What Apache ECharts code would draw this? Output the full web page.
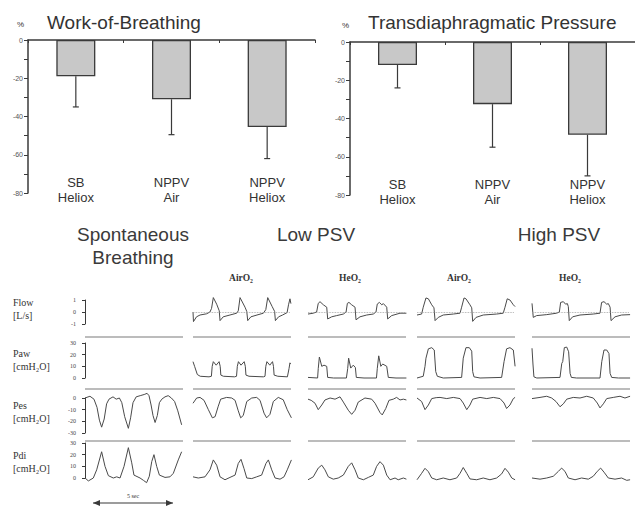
<!DOCTYPE html>
<html>
<head>
<meta charset="utf-8">
<script src="https://cdn.jsdelivr.net/npm/echarts@6/dist/echarts.min.js"></script>
<style>
html,body{margin:0;padding:0;background:#fff}
#main{width:635px;height:507px}
</style>
</head>
<body>
<div id="main"></div>
<script>
// --- bar charts (percent change) ---
var groups = ['SB\nHeliox', 'NPPV\nAir', 'NPPV\nHeliox'];
var wobMean = [-19, -31, -45.5];
var wobLow = [-35, -49.5, -62];
var pdiMean = [-12, -32.5, -48.5];
var pdiLow = [-24, -55, -70];

// --- tracings: [seconds, value] ---
var rowNames = ['Flow', 'Paw', 'Pes', 'Pdi'];
var rowUnits = ['[L/s]', '[cmH₂O]', '[cmH₂O]', '[cmH₂O]'];
var rowMin = [-1, 0, -30, 0];
var rowMax = [1, 30, 0, 30];
var rowStep = [1, 10, 10, 10];
var sectionNames = ['Spontaneous\nBreathing', 'Low PSV', 'High PSV'];
var gasNames = ['AirO₂', 'HeO₂', 'AirO₂', 'HeO₂'];

var spontPes = [[0,0],[0.31,1.5],[0.56,-1],[0.75,-8],[0.9,-19],[1.04,-25],[1.2,-18],[1.35,-5],[1.5,-1],[1.75,1],[1.95,-1],[2.15,0],[2.3,-4],[2.48,-16],[2.71,-26],[2.85,-17],[3.0,-4],[3.2,1],[3.45,2],[3.7,3],[3.88,4],[4.0,2],[4.13,-6],[4.25,-15],[4.38,-21],[4.52,-15],[4.65,-4],[4.8,-1],[5.0,1],[5.2,2],[5.4,0],[5.6,-3],[5.8,-11],[6.04,-23]];
var spontPdi = [[0,0],[0.21,-2.5],[0.52,0],[0.73,7],[1.04,22.5],[1.25,10],[1.46,2],[1.77,0],[1.98,1],[2.19,0],[2.44,10],[2.71,26],[2.92,13],[3.06,2.5],[3.44,0],[3.65,-2],[3.85,-4],[4.02,1.5],[4.17,14],[4.31,20],[4.48,10],[4.65,2.5],[5.0,0.5],[5.31,1],[5.52,4],[5.83,15.5],[6.04,22.5]];

var lowAirFlow = [[0,0],[0.03,-0.8],[0.22,-0.4],[0.44,-0.25],[0.85,-0.15],[1.06,0],[1.16,0.3],[1.27,1.2],[1.48,0.65],[1.64,0.1],[1.69,-0.72],[1.89,-0.4],[2.31,-0.25],[2.73,-0.1],[2.83,0.1],[2.94,1.2],[3.25,0.4],[3.36,0.05],[3.42,-0.72],[3.62,-0.4],[4.0,-0.25],[4.4,-0.1],[4.55,0.2],[4.67,1.2],[4.95,0.45],[5.1,0.05],[5.15,-0.72],[5.35,-0.4],[5.6,-0.25],[5.88,-0.05],[5.97,0.6],[6.06,1.1],[6.12,0.7]];
var lowAirPaw = [[0,14],[0.1,10],[0.27,3],[0.45,1.5],[1.0,1],[1.15,1.5],[1.2,10],[1.27,14],[1.45,11],[1.63,14],[1.7,10],[1.74,2.5],[1.9,1.5],[2.6,1],[2.72,1.5],[2.77,10],[2.84,14],[3.0,11],[3.2,14],[3.27,10],[3.31,2.5],[3.5,1.5],[4.4,1],[4.5,1.5],[4.55,10],[4.62,14],[4.8,11],[4.97,14],[5.03,10],[5.07,2.5],[5.3,1.5],[5.9,1],[6.0,8],[6.06,13],[6.1,12]];
var lowAirPes = [[0,-4.5],[0.23,0],[0.44,0.5],[0.69,-2],[0.96,-10],[1.21,-17],[1.38,-16],[1.58,-7],[1.73,-1],[2.1,0.5],[2.42,0],[2.63,-2],[2.83,-11],[2.98,-17],[3.14,-15],[3.36,-3],[3.67,0],[3.98,0.5],[4.19,-2],[4.44,-13],[4.6,-17],[4.81,-14],[5.02,-3],[5.33,0.5],[5.64,-1.5],[5.89,-10],[6.15,-17]];
var lowAirPdi = [[0,1],[0.33,0],[0.75,1],[1.06,7],[1.27,15.5],[1.48,11],[1.69,1],[2.0,-1.5],[2.31,0.5],[2.63,2.5],[2.83,12.5],[3.0,16],[3.19,8],[3.36,0],[3.67,-0.5],[3.98,1],[4.29,2.5],[4.56,12.5],[4.71,15.5],[4.92,7],[5.13,0],[5.44,-1],[5.69,1],[5.89,7],[6.15,15.5]];

var lowHeFlow = [[0,-0.17],[0.33,-0.1],[0.54,0],[0.64,0.72],[0.75,0.86],[0.96,0.6],[1.17,0.4],[1.23,-0.58],[1.48,-0.4],[1.79,-0.3],[2.21,-0.17],[2.38,0],[2.46,0.72],[2.56,0.8],[2.73,0.6],[2.94,0.4],[3.0,-0.65],[3.25,-0.4],[3.67,-0.25],[4.08,-0.17],[4.25,0],[4.33,0.66],[4.46,0.8],[4.61,0.6],[4.71,0.7],[4.92,0.4],[4.98,-0.58],[5.23,-0.3],[5.75,-0.1],[6.15,-0.1]];
var lowHePaw = [[0,0.5],[0.6,0],[0.64,8],[0.71,18],[0.86,10],[1.0,11],[1.17,10],[1.23,0.5],[1.6,0],[2.4,0],[2.48,8],[2.54,17],[2.67,8.5],[2.83,11],[2.96,9],[3.02,0.5],[3.5,0],[4.28,0],[4.33,8],[4.42,19],[4.55,10],[4.67,12],[4.92,10],[5.02,0.5],[5.5,0],[6.15,0]];
var lowHePes = [[0,-1],[0.2,-2],[0.44,-4.5],[0.64,-10],[0.86,-6],[1.06,-1.7],[1.38,0],[1.69,-1],[2.0,1],[2.21,-3.5],[2.52,-10.5],[2.73,-14],[2.94,-10.5],[3.14,-3.5],[3.56,0],[3.98,-1],[4.19,-4.5],[4.5,-12.5],[4.64,-14.5],[4.86,-9],[5.06,-2],[5.33,-1],[5.54,0.5],[5.75,-1.7],[5.96,-1],[6.15,-1.7]];
var lowHePdi = [[0,-1.5],[0.33,1],[0.64,8.5],[0.86,11],[1.06,7],[1.27,1],[1.58,-1],[1.89,0],[2.21,2.5],[2.52,10],[2.73,13],[2.94,7],[3.14,0],[3.46,-1.5],[3.77,0.5],[4.08,2.5],[4.29,10],[4.5,14],[4.71,11],[4.92,2.5],[5.13,-1.5],[5.44,0],[5.64,-1.5],[5.96,0],[6.15,-1]];

var highAirFlow = [[0,-0.25],[0.29,-0.17],[0.39,0.4],[0.56,1.17],[0.71,1.1],[0.92,0.6],[1.06,0.35],[1.13,-0.72],[1.33,-0.45],[1.64,-0.25],[2.27,-0.17],[2.69,-0.1],[2.79,0.4],[2.94,1.17],[3.06,1.1],[3.31,0.6],[3.42,0.35],[3.48,-0.78],[3.69,-0.45],[4.14,-0.25],[4.98,-0.17],[5.39,-0.1],[5.5,0.4],[5.64,1.1],[5.81,1.0],[6.02,0.6],[6.13,0.45]];
var highAirPaw = [[0,0],[0.39,1.5],[0.5,10],[0.56,17],[0.71,25],[0.92,26],[1.08,24],[1.17,5.5],[1.27,1.5],[1.64,0],[2.79,0.5],[2.89,17],[3.06,26],[3.27,26],[3.42,23],[3.48,5.5],[3.56,1],[3.94,0],[5.29,0.5],[5.44,14],[5.6,25],[5.81,26],[6.02,24],[6.13,10]];
var highAirPes = [[0,0],[0.29,-3],[0.5,-10],[0.71,-6],[0.92,-0.5],[1.2,0.3],[1.44,0.5],[1.86,-0.5],[2.27,0.5],[2.69,-0.5],[2.89,-4.3],[3.11,-10],[3.31,-6],[3.48,-1],[3.94,0.5],[4.36,-0.5],[4.77,0.5],[5.19,-0.5],[5.44,-4.3],[5.6,-9],[5.81,-6],[6.02,-0.5],[6.13,0.5]];
var highAirPdi = [[0,-1.5],[0.29,4],[0.5,8.3],[0.71,5.4],[0.92,0],[1.23,-1.5],[1.64,0],[2.06,-1.5],[2.48,0],[2.69,4],[2.89,9],[3.11,4],[3.31,-0.8],[3.73,-1.5],[4.14,0],[4.56,-1.5],[4.98,0],[5.29,3.5],[5.5,8.3],[5.71,5],[5.92,0],[6.13,-1.5]];

var highHeFlow = [[0,0.72],[0.08,-0.45],[0.29,-0.3],[0.92,-0.22],[1.54,-0.1],[1.71,0],[1.79,0.8],[1.96,0.86],[2.1,0.65],[2.21,0.7],[2.27,0.45],[2.33,-0.72],[2.54,-0.4],[3.0,-0.25],[3.83,-0.17],[4.25,-0.1],[4.35,0.8],[4.5,0.86],[4.67,0.65],[4.77,0.7],[4.88,0.4],[4.94,-0.72],[5.19,-0.4],[5.6,-0.25],[6.13,-0.22]];
var highHePaw = [[0,25.5],[0.06,12],[0.12,1],[0.3,0],[1.75,0.5],[1.86,12.5],[1.92,14],[2.02,26],[2.17,26.5],[2.29,22.5],[2.38,4],[2.46,0.5],[2.79,0],[4.25,0],[4.36,14],[4.5,24],[4.67,24],[4.81,21],[4.88,4],[4.98,0.5],[5.4,0],[6.13,0]];
var highHePes = [[0,-0.5],[0.5,0.5],[0.92,1.5],[1.23,0],[1.5,-3],[1.75,-7.5],[1.96,-5],[2.17,-1],[2.58,0.5],[3.0,0],[3.42,1.5],[3.83,0],[4.08,-4.3],[4.25,-8.5],[4.46,-5],[4.67,-0.5],[5.08,0.5],[5.5,1.5],[5.81,0],[6.13,1.5]];
var highHePdi = [[0,0],[0.5,-1],[0.92,0],[1.33,1.5],[1.65,5.7],[1.85,8.5],[2.06,5.7],[2.27,0],[2.69,-1.5],[3.1,0],[3.52,-1],[3.83,1.5],[4.08,5.7],[4.29,8.5],[4.5,5],[4.77,0],[5.19,-1],[5.6,0],[5.92,-2],[6.13,-1.5]];

// panel index, row index, trace
var traces = [
  [0, 2, spontPes], [0, 3, spontPdi],
  [1, 0, lowAirFlow], [1, 1, lowAirPaw], [1, 2, lowAirPes], [1, 3, lowAirPdi],
  [2, 0, lowHeFlow], [2, 1, lowHePaw], [2, 2, lowHePes], [2, 3, lowHePdi],
  [3, 0, highAirFlow], [3, 1, highAirPaw], [3, 2, highAirPes], [3, 3, highAirPdi],
  [4, 0, highHeFlow], [4, 1, highHePaw], [4, 2, highHePes], [4, 3, highHePdi]
];

// layout
var INK = '#3a3a3a';
var SANS = '"Liberation Sans", Arial, sans-serif';
var SERIF = '"Liberation Serif", "DejaVu Serif", serif';
var waveLeft = 85, waveWidth = 545, pxPerSec = 16, panelPx = 98;
var panelLeft = [85, 193, 308, 417, 532];
var rowTop = [300, 343, 398, 443];
var rowHeight = [24, 35, 35, 35];
var waveSpan = waveWidth / pxPerSec;

var chart = echarts.init(document.getElementById('main'), null, {renderer: 'svg'});

var grids = [
  {left: 28, top: 40, width: 287, height: 153},
  {left: 350, top: 42, width: 285, height: 153}
];
rowTop.forEach(function (t, r) {
  grids.push({left: waveLeft, top: t, width: waveWidth, height: rowHeight[r]});
});
grids.forEach(function (g) { g.outerBoundsMode = 'none'; g.containLabel = false; });

var xAxes = [], yAxes = [];
[0, 1].forEach(function (gi) {
  xAxes.push({
    type: 'category', gridIndex: gi, position: 'top', data: groups,
    axisLine: {show: true, onZero: false, lineStyle: {color: INK, width: 1.5}},
    axisTick: {show: true, inside: true, length: 3, lineStyle: {color: INK}},
    axisLabel: {show: false}, splitLine: {show: false}
  });
  xAxes.push({
    type: 'category', gridIndex: gi, position: 'bottom', data: groups,
    axisLine: {show: false, onZero: false}, axisTick: {show: false},
    axisLabel: {show: true, margin: -18, fontFamily: SANS, fontSize: 13, lineHeight: 15, color: '#333'},
    splitLine: {show: false}
  });
  yAxes.push({
    type: 'value', gridIndex: gi, min: -80, max: 0, interval: 20,
    axisLine: {show: true, lineStyle: {color: INK, width: 1.5}},
    axisTick: {show: true, length: 4, lineStyle: {color: INK}},
    minorTick: {show: true, splitNumber: 2, length: 4, lineStyle: {color: INK}},
    axisLabel: {fontFamily: SANS, fontSize: 7, color: '#555', margin: 5},
    splitLine: {show: false}, minorSplitLine: {show: false}
  });
});
rowNames.forEach(function (n, r) {
  xAxes.push({type: 'value', gridIndex: 2 + r, min: 0, max: waveSpan, show: false});
  yAxes.push({
    type: 'value', gridIndex: 2 + r, min: rowMin[r], max: rowMax[r], interval: rowStep[r], offset: 7,
    axisLine: {show: true, lineStyle: {color: INK, width: 1}},
    axisTick: {show: true, length: 3, lineStyle: {color: INK}},
    axisLabel: {fontFamily: SERIF, fontSize: 6, color: '#444', margin: 2},
    splitLine: {show: false}
  });
});

function errRender(params, api) {
  var a = api.coord([api.value(0), api.value(1)]);
  var b = api.coord([api.value(0), api.value(2)]);
  var st = {stroke: INK, lineWidth: 1.2};
  return {type: 'group', children: [
    {type: 'line', shape: {x1: a[0], y1: a[1], x2: b[0], y2: b[1]}, style: st},
    {type: 'line', shape: {x1: b[0] - 3, y1: b[1], x2: b[0] + 3, y2: b[1]}, style: st}
  ]};
}

var series = [];
[[wobMean, wobLow], [pdiMean, pdiLow]].forEach(function (pair, gi) {
  series.push({
    type: 'bar', xAxisIndex: gi * 2, yAxisIndex: gi, data: pair[0], barWidth: 39, silent: true,
    itemStyle: {color: '#c8c8c8', borderColor: INK, borderWidth: 1.3}
  });
  series.push({
    type: 'custom', xAxisIndex: gi * 2, yAxisIndex: gi, silent: true, renderItem: errRender,
    data: pair[0].map(function (m, i) { return [i, m, pair[1][i]]; })
  });
  // empty series so the label axis is used
  series.push({type: 'bar', xAxisIndex: gi * 2 + 1, yAxisIndex: gi, data: [], silent: true});
});

traces.forEach(function (tr) {
  var p = tr[0], r = tr[1];
  var off = (panelLeft[p] - waveLeft) / pxPerSec;
  var s = {
    type: 'line', xAxisIndex: 4 + r, yAxisIndex: 2 + r, clip: false, silent: true,
    showSymbol: false, symbol: 'none', animation: false,
    lineStyle: {color: '#4a4a4a', width: 1},
    data: tr[2].map(function (d) { return [off + d[0], d[1]]; })
  };
  if (r === 0) {
    s.markLine = {
      silent: true, symbol: 'none', label: {show: false}, animation: false,
      lineStyle: {color: '#9a9a9a', type: 'dotted', width: 0.8},
      data: [[{coord: [off, 0]}, {coord: [off + panelPx / pxPerSec - 0.05, 0]}]]
    };
  }
  series.push(s);
});

// text and rules
var graphic = [];
function txt(x, y, text, size, font, align, weight, color) {
  graphic.push({type: 'text', x: x, y: y, silent: true, style: {
    text: text, fontSize: size, fontFamily: font, fontWeight: weight || 'normal',
    fill: color || '#333', align: align || 'left', verticalAlign: 'middle'
  }});
}
txt(17, 24, '%', 8, SANS);
txt(47, 22, 'Work-of-Breathing', 19, SANS, 'left', 'normal', '#333');
txt(342, 25, '%', 8, SANS);
txt(368, 22, 'Transdiaphragmatic Pressure', 19, SANS, 'left', 'normal', '#333');

var sectionX = [133, 316, 559];
sectionNames.forEach(function (n, i) {
  graphic.push({type: 'text', x: sectionX[i], y: 223, silent: true, style: {
    text: n, fontSize: 19, fontFamily: SANS, fill: '#3a3a3a', align: 'center', verticalAlign: 'top', lineHeight: 23
  }});
});
var gasX = [241, 350, 459, 570];
gasNames.forEach(function (n, i) { txt(gasX[i], 278, n, 9.5, SERIF, 'center', 'bold', '#333'); });

rowNames.forEach(function (n, r) {
  var mid = [308, 359, 411, 461][r];
  txt(13, mid - 6, n, 10, SERIF, 'left', 'normal', '#333');
  txt(13, mid + 7, rowUnits[r], 10, SERIF, 'left', 'normal', '#333');
});

[337, 389, 441].forEach(function (y) {
  panelLeft.forEach(function (x) {
    graphic.push({type: 'line', silent: true, shape: {x1: x, y1: y, x2: x + panelPx, y2: y},
      style: {stroke: '#7a7a7a', lineWidth: 1.2}});
  });
});

// 5 second scale bar
var sbX = 93, sbY = 503, sbLen = 5 * pxPerSec;
graphic.push({type: 'line', silent: true, shape: {x1: sbX, y1: sbY, x2: sbX + sbLen, y2: sbY}, style: {stroke: INK, lineWidth: 1.2}});
graphic.push({type: 'polygon', silent: true, shape: {points: [[sbX, sbY], [sbX + 7, sbY - 3], [sbX + 7, sbY + 3]]}, style: {fill: INK}});
graphic.push({type: 'polygon', silent: true, shape: {points: [[sbX + sbLen, sbY], [sbX + sbLen - 7, sbY - 3], [sbX + sbLen - 7, sbY + 3]]}, style: {fill: INK}});
txt(sbX + sbLen / 2, 496, '5 sec', 6, SERIF, 'center', 'normal', '#333');

chart.setOption({
  animation: false,
  backgroundColor: '#fff',
  grid: grids,
  xAxis: xAxes,
  yAxis: yAxes,
  series: series,
  graphic: graphic
});
</script>
</body>
</html>
